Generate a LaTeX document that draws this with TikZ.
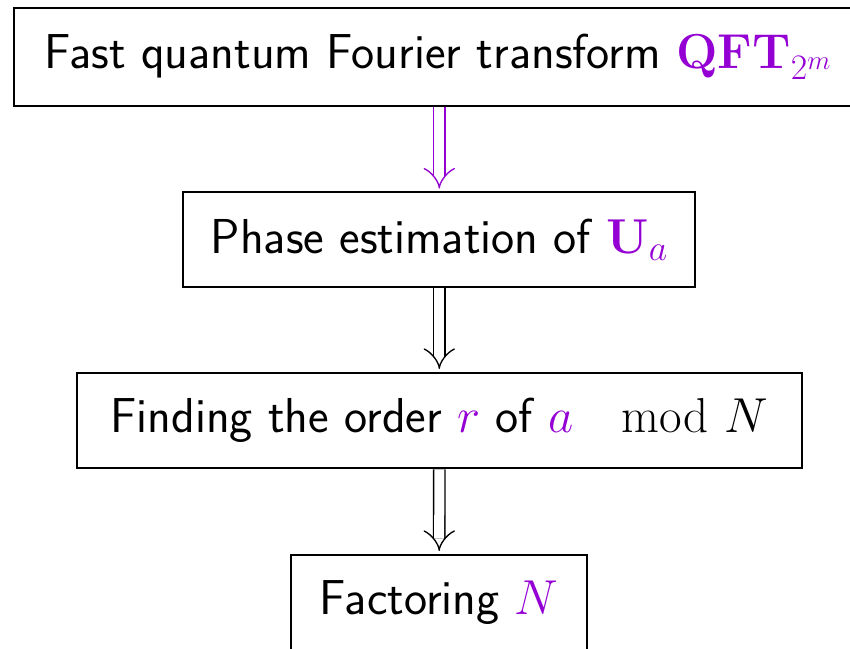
\RequirePackage{fix-cm}
\documentclass[tikz,border=0pt]{standalone}
\usepackage{amsmath}
\usetikzlibrary{arrows.meta}
\definecolor{qpurple}{RGB}{148,0,211}
\renewcommand{\familydefault}{\sfdefault}
\DeclareMathSizes{36.8}{36.8}{26.9}{20.2}
\begin{document}
\begin{tikzpicture}[x=0.75pt,y=-0.75pt,
  box/.style={draw, line width=1.6pt, inner sep=0pt, font=\fontsize{36.8}{44}\selectfont},
  dbl/.style={double, double distance=7.5pt, line width=1pt, -{Implies[scale=1.3]}, shorten >=2pt}]
\clip (0,0) rectangle (850,649);
\node[box, minimum width=636pt, minimum height=73.5pt] (qft) at (438,57)
  {Fast quantum Fourier transform \textcolor{qpurple}{$\mathbf{QFT}_{2^m}$}};
\node[box, minimum width=384pt, minimum height=70.8pt] (pe) at (439.3,239.5)
  {Phase estimation of \textcolor{qpurple}{$\mathbf{U}_a$}};
\node[box, minimum width=544pt, minimum height=71.7pt] (ord) at (439.3,420.5)
  {Finding the order \textcolor{qpurple}{$r$} of \textcolor{qpurple}{$a$} $\mod N$};
\node[box, minimum width=222.2pt, minimum height=71.7pt] (fac) at (439.2,602.5)
  {Factoring \textcolor{qpurple}{$N$}};
\draw[dbl, draw=qpurple] (qft.south -| pe.north) -- (pe.north);
\draw[dbl] (pe.south) -- (ord.north);
\draw[dbl] (ord.south) -- (fac.north);
\end{tikzpicture}
\end{document}
